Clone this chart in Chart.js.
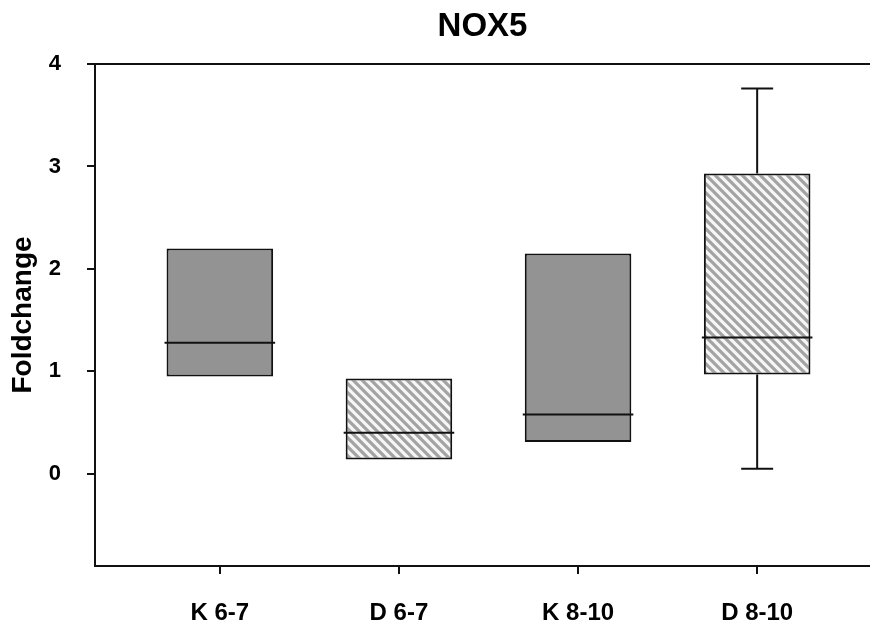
<!DOCTYPE html>
<html>
<head>
<meta charset="utf-8">
<script src="https://cdn.jsdelivr.net/npm/chart.js@4.4.1/dist/chart.umd.min.js"></script>
<style>
  html, body { margin:0; padding:0; background:#fff; }
  canvas { display:block; }
</style>
</head>
<body>
<canvas id="c" width="870" height="627"></canvas>
<script>
const categories = ['K 6-7', 'D 6-7', 'K 8-10', 'D 8-10'];
const positions = [1, 2, 3, 4];
const q1 = [0.95, 0.14, 0.31, 0.97];
const medians = [1.28, 0.40, 0.58, 1.33];
const q3 = [2.20, 0.93, 2.15, 2.93];
const mins = [0.95, 0.14, 0.31, 0.05];
const maxs = [2.20, 0.93, 2.15, 3.76];
const yTicks = [0, 1, 2, 3, 4];
const hatched = [false, true, false, true];

const FONT = '"Liberation Sans", Arial, sans-serif';

function makeHatch(){
  const s = 9;
  const t = document.createElement('canvas');
  t.width = s; t.height = s;
  const g = t.getContext('2d');
  g.fillStyle = '#f6f6f6';
  g.fillRect(0, 0, s, s);
  g.strokeStyle = '#a3a3a3';
  g.lineWidth = 3.2;
  g.beginPath();
  g.moveTo(-2, -2); g.lineTo(s + 2, s + 2);
  g.moveTo(-2, s - 2); g.lineTo(2, s + 2);
  g.moveTo(s - 2, -2); g.lineTo(s + 2, 2);
  g.stroke();
  return g.createPattern(t, 'repeat');
}

const ctx = document.getElementById('c').getContext('2d');
const hatch = makeHatch();

// medians, whiskers and the top frame line
const boxExtras = {
  id: 'boxExtras',
  afterDatasetsDraw(chart){
    const c = chart.ctx;
    const y = chart.scales.y;
    const bars = chart.getDatasetMeta(0).data;
    c.save();
    c.strokeStyle = '#111';
    c.lineWidth = 2;
    bars.forEach((bar, i) => {
      const half = bar.width / 2;
      const my = y.getPixelForValue(medians[i]);
      c.beginPath();
      c.moveTo(bar.x - half - 2, my);
      c.lineTo(bar.x + half + 2, my);
      c.stroke();
      const cap = bar.width * 0.15;
      if (maxs[i] > q3[i]) {
        const a = y.getPixelForValue(q3[i]), b = y.getPixelForValue(maxs[i]);
        c.beginPath();
        c.moveTo(bar.x, a); c.lineTo(bar.x, b);
        c.moveTo(bar.x - cap, b); c.lineTo(bar.x + cap, b);
        c.stroke();
      }
      if (mins[i] < q1[i]) {
        const a = y.getPixelForValue(q1[i]), b = y.getPixelForValue(mins[i]);
        c.beginPath();
        c.moveTo(bar.x, a); c.lineTo(bar.x, b);
        c.moveTo(bar.x - cap, b); c.lineTo(bar.x + cap, b);
        c.stroke();
      }
    });
    const area = chart.chartArea;
    c.beginPath();
    c.moveTo(area.left, area.top);
    c.lineTo(area.right, area.top);
    c.stroke();
    c.restore();
  }
};

new Chart(ctx, {
  type: 'bar',
  data: {
    datasets: [{
      data: positions.map((p, i) => ({ x: p, y: [q1[i], q3[i]] })),
      backgroundColor: hatched.map(h => h ? hatch : '#939393'),
      borderColor: '#111',
      borderWidth: 2,
      borderSkipped: false,
      categoryPercentage: 1,
      barPercentage: 0.595
    }]
  },
  options: {
    responsive: false,
    animation: false,
    layout: { padding: 0 },
    plugins: {
      legend: { display: false },
      tooltip: { enabled: false },
      title: {
        display: true,
        text: 'NOX5',
        fullSize: false,
        color: '#000',
        font: { family: FONT, size: 33, weight: 'bold', lineHeight: 1.2 },
        padding: { top: 7, bottom: 17.4 }
      }
    },
    scales: {
      x: {
        type: 'linear',
        offset: false,
        min: 0.303,
        max: 4.63,
        afterBuildTicks: s => { s.ticks = positions.map(v => ({ value: v })); },
        afterFit: s => { s.height = 61; },
        ticks: {
          color: '#000',
          padding: 25,
          font: { family: FONT, size: 24, weight: 'bold' },
          callback: v => categories[positions.indexOf(v)]
        },
        grid: { display: true, offset: false, drawOnChartArea: false, drawTicks: true, tickLength: 8, color: '#111', lineWidth: 2 },
        border: { display: true, color: '#111', width: 2 }
      },
      y: {
        min: -0.9,
        max: 4,
        afterBuildTicks: s => { s.ticks = yTicks.map(v => ({ value: v })); },
        afterFit: s => { s.width = 95; },
        title: {
          display: true,
          text: 'Foldchange',
          color: '#000',
          font: { family: FONT, size: 28, weight: 'bold', lineHeight: 1.2 },
          padding: { top: 6, bottom: 0 }
        },
        ticks: {
          color: '#000',
          padding: 26,
          font: { family: FONT, size: 22, weight: 'bold' }
        },
        grid: { display: true, drawOnChartArea: false, drawTicks: true, tickLength: 8, color: '#111', lineWidth: 2 },
        border: { display: true, color: '#111', width: 2 }
      }
    }
  },
  plugins: [boxExtras]
});
</script>
</body>
</html>
